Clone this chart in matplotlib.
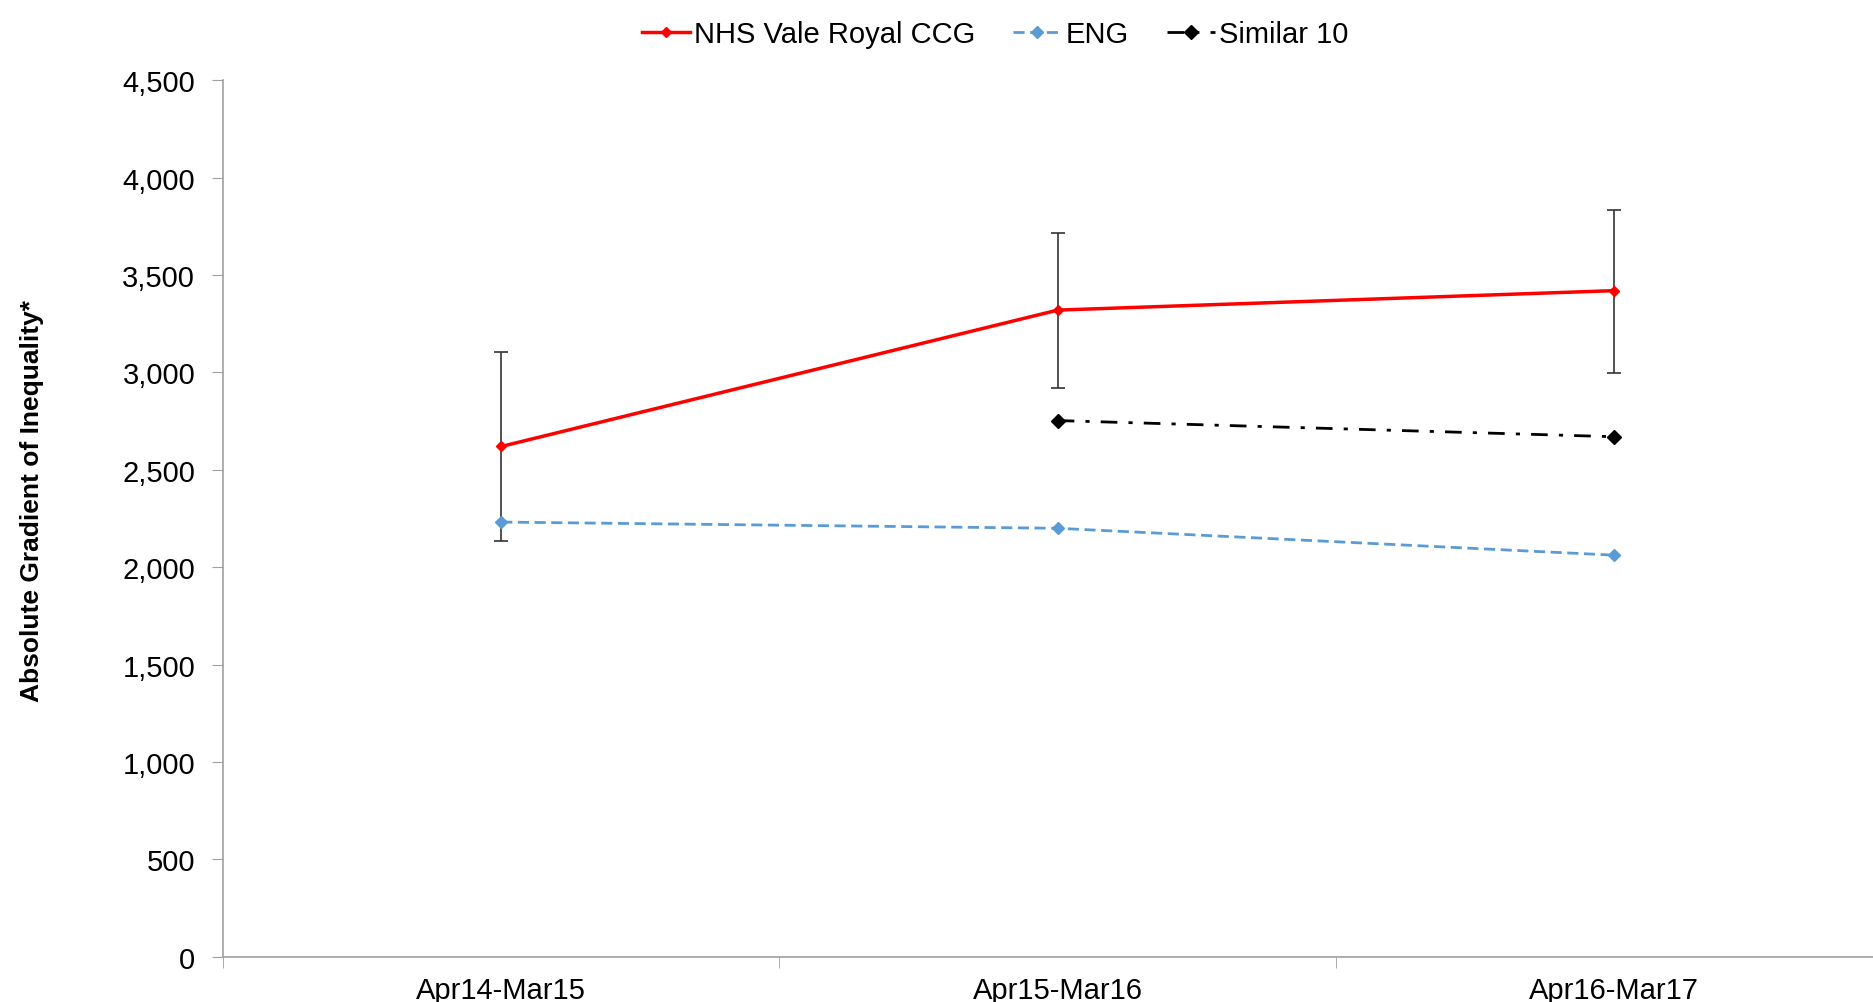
import numpy as np
import matplotlib.pyplot as plt

plt.rcParams['font.family'] = ['Liberation Sans', 'DejaVu Sans']

periods = ['Apr14-Mar15', 'Apr15-Mar16', 'Apr16-Mar17']
ccg = [2620, 3320, 3420]
ccg_lower = [2135, 2920, 2995]
ccg_upper = [3105, 3715, 3835]
eng = [2232, 2200, 2062]
similar = [np.nan, 2753, 2670]

x = np.arange(len(periods))
fig = plt.figure(figsize=(18.74, 10.03), dpi=100)
ax = fig.add_axes([0.119, 0.045, 0.881, 0.874])

err = [np.array(ccg) - np.array(ccg_lower), np.array(ccg_upper) - np.array(ccg)]
ax.errorbar(x, ccg, yerr=err, fmt='none', ecolor='#333333', elinewidth=1.2,
            capsize=5, capthick=1.2, zorder=2)
ax.plot(x, ccg, color='#ff0000', lw=2.5, marker='D', ms=5, label='NHS Vale Royal CCG', zorder=3)
ax.plot(x, eng, color='#5b9bd5', lw=2, ls=(0, (4, 2)), marker='D', ms=6, label='ENG', zorder=3)
ax.plot(x, similar, color='black', lw=2, ls=(0, (6, 4, 1.5, 4)), marker='D', ms=7,
        label='Similar 10', zorder=3)

ax.set_yticks(np.arange(0, 4501, 500))
ax.set_yticklabels([f'{v:,}' for v in range(0, 4501, 500)])
ax.set_xticks(x)
ax.set_xticklabels(periods)
ax.set_xticks([-0.5, 0.5, 1.5], minor=True)
ax.set_xlim(-0.5, 2.467)
ax.set_ylim(0, 4500)
ax.tick_params(axis='x', which='major', length=0, pad=14, labelsize=21)
ax.tick_params(axis='x', which='minor', length=8, color='#a0a0a0')
ax.tick_params(axis='y', length=8, color='#a0a0a0', labelsize=21, pad=12)

for s in ['top', 'right']:
    ax.spines[s].set_visible(False)
for s in ['left', 'bottom']:
    ax.spines[s].set_color('#a0a0a0')
    ax.spines[s].set_linewidth(1.2)

fig.text(0.017, 0.5, 'Absolute Gradient of Inequality*', rotation=90, va='center', ha='center',
         fontsize=19, fontweight='bold')

fig.legend(loc='upper center', bbox_to_anchor=(0.531, 1.005), ncol=3, frameon=False,
           fontsize=21, handlelength=1.65, columnspacing=1.3, handletextpad=0.15)

fig.savefig('out.png', dpi=100)
